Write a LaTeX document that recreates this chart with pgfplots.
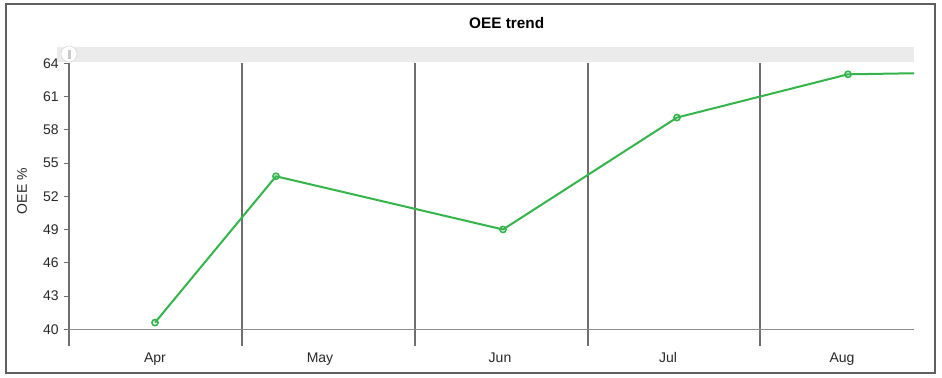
\documentclass[border=0pt]{standalone}
\usepackage{pgfplots}
\pgfplotsset{compat=1.18}
\usepackage{fontspec}
\setmainfont{Liberation Sans}
\definecolor{oeegreen}{RGB}{52,180,74}
\definecolor{framegray}{RGB}{95,95,95}
\definecolor{gridgray}{RGB}{110,110,110}
\definecolor{axisgray}{RGB}{140,140,140}
\definecolor{bargray}{RGB}{235,235,235}
\definecolor{textgray}{RGB}{40,40,40}
\begin{document}
\begin{tikzpicture}[x=0.75pt,y=0.75pt]
\useasboundingbox (0,0) rectangle (942,378);
\fill[white] (0,0) rectangle (942,378);
\draw[framegray, line width=1.1pt] (6,5) rectangle (935,374);
% scroll bar band above the plot
\fill[bargray] (57,316) rectangle (914,331);
\filldraw[fill=white, draw=bargray!80!gray, line width=0.4pt] (69,324) circle (8);
\fill[bargray!70!gray] (67.5,319) rectangle (70.5,328);
\begin{axis}[
  at={(69,44)}, anchor=south west,
  scale only axis,
  width=633.75pt, height=199.5pt,
  xmin=69, xmax=914,
  ymin=40, ymax=64,
  ytick={40,43,...,64},
  xtick={69,242,415,588,760},
  xticklabels={},
  xmajorgrids,
  major grid style={gridgray, line width=1.1pt},
  xtick style={gridgray, line width=1.1pt, /pgfplots/major tick length=12.75pt},
  ytick style={gridgray, line width=0.6pt, /pgfplots/major tick length=4pt},
  tick align=outside,
  xtick pos=bottom, ytick pos=left,
  extra x ticks={155,320,500,668,842},
  extra x tick labels={Apr,May,Jun,Jul,Aug},
  extra x tick style={grid=none, tick style={draw=none},
     xticklabel style={yshift=-9pt, text height=8pt, text depth=2pt}},
  separate axis lines,
  axis x line*=bottom, axis y line*=left,
  x axis line style={-, axisgray, line width=0.9pt},
  y axis line style={-, gridgray, line width=1.1pt},
  tick label style={font=\fontsize{10.5}{12}\selectfont, text=textgray},
  /pgf/number format/assume math mode=true,
  title={\textbf{OEE trend}},
  title style={at={(axis description cs:0.518,1.150)}, anchor=center, yshift=-6pt,
     font=\fontsize{11.5}{13}\selectfont},
  ylabel={OEE \%},
  ylabel style={at={(axis description cs:-0.0556,0.519)}, anchor=center,
     font=\fontsize{10.5}{12}\selectfont, text=textgray},
]
\addplot[oeegreen, line width=1.5pt, mark=o, mark size=2.3pt,
  mark options={fill=white, line width=1.2pt}]
  coordinates {(155,40.6) (276,53.8) (503,49.0) (677,59.1) (848,63.0)};
\addplot[oeegreen, line width=1.5pt, forget plot]
  coordinates {(848,63.0) (1020,63.25)};
\end{axis}
\end{tikzpicture}
\end{document}
